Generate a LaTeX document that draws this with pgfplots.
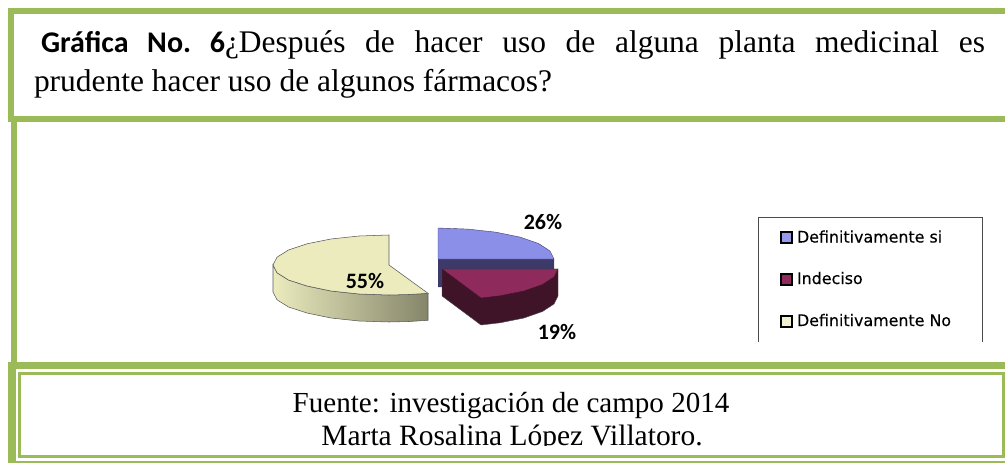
\documentclass[border=0pt]{standalone}
\usepackage{fontspec}
\setmainfont{Liberation Serif}
\newfontfamily\calib{Carlito}
\newfontfamily\djv[FakeBold=0.3]{DejaVu Sans}
\usepackage{pgfplots}
\pgfplotsset{compat=1.18}
\definecolor{marco}{HTML}{9BBB59}
\definecolor{azul}{HTML}{8B8FE8}
\definecolor{azulosc}{HTML}{3D3A6A}
\definecolor{vino}{HTML}{8E2B5C}
\definecolor{vinoosc}{HTML}{3F1429}
\definecolor{crema}{HTML}{EBEBBE}
\definecolor{oliva}{HTML}{85856A}
\newcommand\fs[1]{\fontsize{#1}{#1}\selectfont}
\begin{document}
\begin{tikzpicture}
\begin{axis}[
    scale only axis,
    width=753.75pt, height=347.25pt,
    xmin=0, xmax=1005, ymin=0, ymax=463,
    y dir=reverse,
    hide axis,
    clip mode=individual,
    no markers,
    nodes={inner sep=0pt, outer sep=0pt},
]
% fondo
\addplot[draw=none, fill=white] coordinates {(0,0) (1005,0) (1005,463) (0,463)} -- cycle;
% porción 55%: cara lateral y cara superior
\addplot[draw=black!65, line width=0.4pt, left color=crema, middle color=crema!85!oliva, right color=oliva]
    coordinates {(273,265) (277,272.8) (288.5,280) (307,286) (331,291) (359,294) (389,295) (409,294.5) (428,293.3)
                 (428,320.3) (409,321.5) (389,322) (359,321) (331,318) (307,313) (288.5,307) (277,299.8) (273,292)} -- cycle;
\addplot[draw=black!65, line width=0.4pt, fill=crema]
    coordinates {(389,265) (428,293.3) (409,294.5) (389,295) (359,294) (331,291) (307,286) (288.5,280) (277,272.8) (273,265)
                 (277,257.2) (288.5,250) (307,243.8) (331,239) (359,236) (389,235)} -- cycle;
% porción 26%
\addplot[draw=none, fill=azulosc]
    coordinates {(438,259) (554,259) (554,270) (442,270) (442,287) (438,287)} -- cycle;
\addplot[draw=azulosc, line width=0.3pt, fill=azul]
    coordinates {(438,259) (438,228) (468,229.1) (496,232.2) (520,237.1) (538.5,243.5) (550,251) (554,259)} -- cycle;
% porción 19%
\addplot[draw=black!70, line width=0.3pt, fill=vinoosc]
    coordinates {(442,269) (442,296) (481,325) (500,322.8) (524,318) (542.5,311.5) (554,304) (558,296) (558,269)} -- cycle;
\addplot[draw=vinoosc, line width=0.3pt, fill=vino]
    coordinates {(442,269) (558,269) (554,277) (542.5,284.5) (524,291) (500,295.8) (481,298)} -- cycle;
\node[anchor=center] at (543,222) {\calib\bfseries\fs{16.5}26\%};
\node[anchor=center] at (365,281) {\calib\bfseries\fs{16.5}55\%};
\node[anchor=center] at (557,332) {\calib\bfseries\fs{16.5}19\%};
% leyenda
\addplot[draw=black!70, line width=0.7pt] coordinates {(758,342) (758,217) (982,217) (982,342)};
\addplot[draw=black, line width=1pt, fill=azul!90!white] coordinates {(781,232) (792,232) (792,243) (781,243)} -- cycle;
\addplot[draw=black, line width=1pt, fill=vino] coordinates {(781,274) (792,274) (792,285) (781,285)} -- cycle;
\addplot[draw=black, line width=1pt, fill=crema!70!white] coordinates {(781,316) (792,316) (792,327) (781,327)} -- cycle;
\node[anchor=base west] at (797,242.5) {\djv\fs{11.9}Definitivamente si};
\node[anchor=base west] at (797,284) {\djv\fs{11.9}Indeciso};
\node[anchor=base west] at (797,326) {\djv\fs{11.9}Definitivamente No};
% textos
\node[anchor=base west] at (41,53) {\frenchspacing\makebox[708pt][s]{{\calib\bfseries\fs{22.5}Gráfica\hspace{14pt}No.\hspace{14pt}6}\fs{23.6}¿Después de hacer uso de alguna planta medicinal es}};
\node[anchor=base west] at (34,92) {\fs{23.6}prudente hacer uso de algunos fármacos?};
\node[anchor=base] at (511,412) {\fs{21.8}Fuente: investigación de campo 2014};
\node[anchor=base] at (512,445) {\fs{22.1}Marta Rosalina López Villatoro.};
% marcos
\addplot[draw=none, fill=white] coordinates {(21,446.3) (1002,446.3) (1002,463) (21,463)} -- cycle;
\addplot[draw=none, fill=marco] coordinates {(8,8) (1005,8) (1005,14) (8,14)} -- cycle;
\addplot[draw=none, fill=marco] coordinates {(8,8) (14,8) (14,122) (8,122)} -- cycle;
\addplot[draw=none, fill=marco] coordinates {(8,116) (1005,116) (1005,122) (8,122)} -- cycle;
\addplot[draw=none, fill=marco] coordinates {(11,122) (17,122) (17,362) (11,362)} -- cycle;
\addplot[draw=none, fill=marco] coordinates {(8,362) (1005,362) (1005,369) (8,369)} -- cycle;
\addplot[draw=none, fill=marco] coordinates {(8,362) (16,362) (16,463) (8,463)} -- cycle;
\addplot[draw=none, fill=marco] coordinates {(18,372) (1005,372) (1005,375) (18,375)} -- cycle;
\addplot[draw=none, fill=marco] coordinates {(18,372) (21,372) (21,458) (18,458)} -- cycle;
\addplot[draw=none, fill=marco] coordinates {(18,455) (1005,455) (1005,458) (18,458)} -- cycle;
\addplot[draw=none, fill=marco] coordinates {(1002,372) (1005,372) (1005,458) (1002,458)} -- cycle;
\addplot[draw=none, fill=marco] coordinates {(16,461) (1005,461) (1005,463) (16,463)} -- cycle;
\end{axis}
\end{tikzpicture}
\end{document}
